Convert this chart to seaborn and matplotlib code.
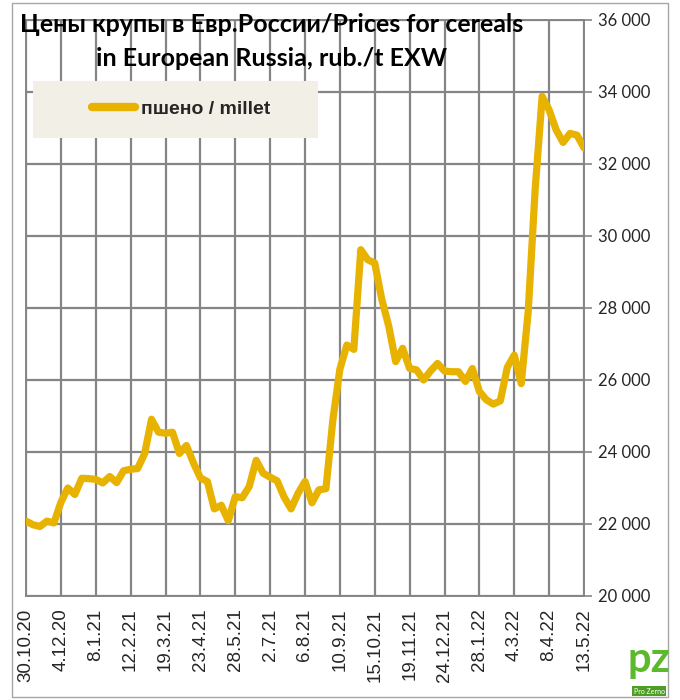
import pandas as pd
import matplotlib
matplotlib.use('Agg')
import matplotlib.pyplot as plt
import seaborn as sns
from matplotlib.patches import Rectangle
from matplotlib.ticker import FuncFormatter

# weekly EXW prices, rub/t
start_date = '2020-10-30'
prices = [22080, 21980, 21930, 22080, 22030, 22600, 23000, 22820, 23270, 23260,
          23240, 23140, 23320, 23150, 23480, 23520, 23540, 23950, 24910, 24550,
          24520, 24550, 23960, 24180, 23700, 23280, 23180, 22420, 22520, 22090,
          22760, 22730, 23040, 23770, 23410, 23300, 23200, 22750, 22420, 22850,
          23180, 22590, 22950, 22980, 24900, 26300, 26970, 26850, 29620, 29340,
          29250, 28250, 27500, 26510, 26880, 26320, 26280, 26000, 26250, 26460,
          26250, 26230, 26230, 25960, 26320, 25680, 25450, 25330, 25420, 26350,
          26690, 25900, 27900, 31300, 33880, 33500, 32950, 32600, 32850, 32800,
          32450]
tick_labels = ['30.10.20', '4.12.20', '8.1.21', '12.2.21', '19.3.21', '23.4.21',
               '28.5.21', '2.7.21', '6.8.21', '10.9.21', '15.10.21', '19.11.21',
               '24.12.21', '28.1.22', '4.3.22', '8.4.22', '13.5.22']
y_ticks = [20000, 22000, 24000, 26000, 28000, 30000, 32000, 34000, 36000]
series_name = 'пшено / millet'
title_lines = ['Цены крупы в Евр.России/Prices for cereals',
               'in European Russia, rub./t EXW']

df = pd.DataFrame({
    'date': pd.date_range(start_date, periods=len(prices), freq='7D'),
    'price': prices,
})
tick_dates = df['date'].iloc[::5]

line_color = '#E8B200'
grid_color = '#858585'

sns.set_style('white')
plt.rcParams['font.family'] = ['Lato', 'DejaVu Sans']

fig = plt.figure(figsize=(6.8, 7.0), dpi=100)
# 576 px tall -> 72 px per 2000 rub, grid rows land on whole pixels
ax = fig.add_axes([26 / 680, 104 / 700, 558 / 680, 576 / 700])

sns.lineplot(data=df, x='date', y='price', ax=ax, color=line_color,
             linewidth=5.2, solid_joinstyle='round', solid_capstyle='round',
             label=series_name, zorder=5)

ax.set_xlim(df['date'].iloc[0], df['date'].iloc[-1])
ax.set_ylim(y_ticks[0], y_ticks[-1])

# grid drawn explicitly at the tick positions
ax.hlines(y_ticks, df['date'].iloc[0], df['date'].iloc[-1],
          colors=grid_color, linewidth=1.6, zorder=2, snap=True)
ax.vlines(tick_dates, y_ticks[0], y_ticks[-1],
          colors=grid_color, linewidth=1.6, zorder=2, snap=True)

ax.set_xticks(tick_dates)
ax.set_xticklabels(tick_labels, rotation=90, family='Liberation Sans', fontsize=13.5)
ax.set_yticks(y_ticks)
ax.yaxis.set_major_formatter(FuncFormatter(lambda v, p: f'{int(v):,}'.replace(',', ' ')))
ax.yaxis.tick_right()
ax.tick_params(axis='y', labelsize=12, length=6, width=1.2, color=grid_color, pad=4)
ax.tick_params(axis='x', length=6, width=1.2, color=grid_color, pad=3)
ax.set_xlabel('')
ax.set_ylabel('')
for s in ax.spines.values():
    s.set_color(grid_color)
    s.set_linewidth(1.4)

# legend box
ax.add_patch(Rectangle((0.0125, 0.796), 0.51, 0.098, transform=ax.transAxes,
                       facecolor='#F2EFE6', edgecolor='none', zorder=3))
leg = ax.legend(loc='center left', bbox_to_anchor=(0.087, 0.845), frameon=False,
                handlelength=2.2, handletextpad=0.3,
                prop={'family': 'Liberation Sans', 'weight': 'bold', 'size': 14})
leg.set_zorder(6)
for h in leg.get_lines():
    h.set_linewidth(6)

# title
fig.text(272 / 680, 1 - 25 / 700, title_lines[0], ha='center', va='center',
         fontsize=18, weight='bold', color='black')
fig.text(272 / 680, 1 - 58 / 700, title_lines[1], ha='center', va='center',
         fontsize=18, weight='bold', color='black')

# outer frame
fig.add_artist(Rectangle((12 / 680, 3 / 700), 656 / 680, 694 / 700,
                         transform=fig.transFigure, fill=False,
                         edgecolor='#A6A6A6', linewidth=1))

# logo
fig.text(649 / 680, 1 - 660 / 700, 'pz', ha='center', va='center', fontsize=30,
         weight='bold', color='#5DB92C')
fig.text(649 / 680, 1 - 691 / 700, 'Pro Zerno', ha='center', va='center', fontsize=5,
         color='white', bbox=dict(facecolor='#4E9E25', edgecolor='none', pad=1))

fig.savefig('out.png', dpi=100)
